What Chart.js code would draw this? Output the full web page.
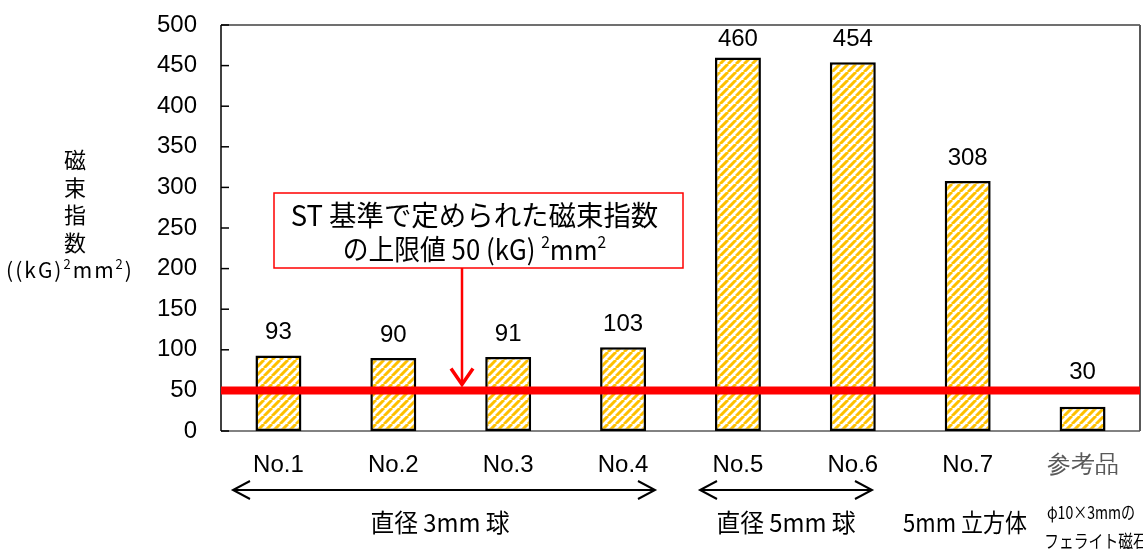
<!DOCTYPE html>
<html>
<head>
<meta charset="utf-8">
<script src="https://cdn.jsdelivr.net/npm/chart.js@4.4.0/dist/chart.umd.min.js"></script>
<style>
  html, body { margin: 0; padding: 0; background: #fff; }
  #wrap { width: 1143px; height: 549px; }
</style>
</head>
<body>
<div id="wrap"><canvas id="c" width="1143" height="549"></canvas></div>
<script>
// Sample names and their magnetic flux index ((kG)^2 mm^2)
const categories = ['No.1', 'No.2', 'No.3', 'No.4', 'No.5', 'No.6', 'No.7', '参考品'];
const fluxIndex = [93, 90, 91, 103, 460, 454, 308, 30];
const yTickValues = [0, 50, 100, 150, 200, 250, 300, 350, 400, 450, 500];
// Upper limit set by the ST standard
const stLimit = 50;

const JP = '"Noto Sans CJK JP", "Noto Sans", sans-serif';
const LAT = '"Liberation Sans", Arial, sans-serif';

// Diagonal yellow hatch used to fill the bars
function makeHatch() {
  const s = 8;
  const c = document.createElement('canvas');
  c.width = s; c.height = s;
  const g = c.getContext('2d');
  g.fillStyle = '#fff';
  g.fillRect(0, 0, s, s);
  g.strokeStyle = '#FFC000';
  g.lineWidth = 3;
  g.beginPath();
  for (const k of [-s, 0, s]) {
    g.moveTo(k, s);
    g.lineTo(k + s, 0);
  }
  g.stroke();
  return document.getElementById('c').getContext('2d').createPattern(c, 'repeat');
}

// Draws a run of text pieces (some superscript) centred on cx,
// optionally squeezed horizontally by sx
function drawRich(ctx, parts, cx, baseY, size, family, sx) {
  sx = sx || 1;
  const fontOf = p => (p.sup ? Math.round(size * 0.6) : size) + 'px ' + family;
  let total = 0;
  const widths = parts.map(p => {
    ctx.font = fontOf(p);
    const w = ctx.measureText(p.t).width;
    total += w;
    return w;
  });
  ctx.save();
  ctx.translate(cx, baseY);
  ctx.scale(sx, 1);
  let x = -total / 2;
  ctx.textAlign = 'left';
  ctx.textBaseline = 'alphabetic';
  parts.forEach((p, i) => {
    ctx.font = fontOf(p);
    ctx.fillText(p.t, x, p.sup ? -size * 0.42 : 0);
    x += widths[i];
  });
  ctx.restore();
}

function arrowHead(ctx, x, y, dx, dy, len, half) {
  // open V-shaped head pointing in direction (dx, dy)
  const px = -dy, py = dx;
  ctx.beginPath();
  ctx.moveTo(x - dx * len + px * half, y - dy * len + py * half);
  ctx.lineTo(x, y);
  ctx.lineTo(x - dx * len - px * half, y - dy * len - py * half);
  ctx.stroke();
}

const decorations = {
  id: 'decorations',
  beforeDatasetsDraw(chart) {
    const { ctx, chartArea: a, scales: { y } } = chart;
    ctx.save();
    // plot frame
    ctx.lineCap = 'butt';
    ctx.strokeStyle = '#404040';
    ctx.lineWidth = 1.5;
    ctx.beginPath(); ctx.moveTo(a.left, a.top); ctx.lineTo(a.right, a.top); ctx.stroke();
    ctx.strokeStyle = '#595959';
    ctx.lineWidth = 2;
    ctx.beginPath(); ctx.moveTo(a.right, a.top); ctx.lineTo(a.right, a.bottom); ctx.stroke();
    ctx.lineWidth = 1.5;
    ctx.beginPath(); ctx.moveTo(a.left, a.bottom); ctx.lineTo(a.right, a.bottom); ctx.stroke();
    ctx.strokeStyle = '#000';
    ctx.beginPath(); ctx.moveTo(a.left, a.top); ctx.lineTo(a.left, a.bottom); ctx.stroke();
    // inward tick marks on the value axis
    yTickValues.forEach(v => {
      const py = y.getPixelForValue(v);
      ctx.beginPath(); ctx.moveTo(a.left, py); ctx.lineTo(a.left + 8, py); ctx.stroke();
    });
    ctx.restore();
  },
  afterDatasetsDraw(chart) {
    const { ctx, chartArea: a, scales: { y } } = chart;
    const meta = chart.getDatasetMeta(0);
    const limitY = y.getPixelForValue(stLimit);
    ctx.save();

    // ST limit line
    ctx.strokeStyle = '#FF0000';
    ctx.lineWidth = 8;
    ctx.beginPath(); ctx.moveTo(a.left, limitY); ctx.lineTo(a.right, limitY); ctx.stroke();

    // value labels above bars (kept clear of the limit line and the top edge)
    ctx.fillStyle = '#000';
    ctx.font = '24px ' + LAT;
    ctx.textAlign = 'center';
    ctx.textBaseline = 'alphabetic';
    meta.data.forEach((bar, i) => {
      let by = bar.y > limitY ? limitY - 11 : bar.y - 16;
      by = Math.max(by, a.top + 21);
      ctx.fillText(String(fluxIndex[i]), bar.x, by);
    });

    // annotation box
    const bx = 274, bw = 409, btop = 193, bh = 75;
    ctx.fillStyle = '#fff';
    ctx.fillRect(bx, btop, bw, bh);
    ctx.strokeStyle = '#FF0000';
    ctx.lineWidth = 1.5;
    ctx.strokeRect(bx, btop, bw, bh);
    ctx.fillStyle = '#000';
    drawRich(ctx, [{ t: 'ST 基準で定められた磁束指数' }], bx + bw / 2 - 4, btop + 33, 28, JP, 0.98);
    drawRich(ctx, [
      { t: 'の上限値 50 (kG) ' },
      { t: '2', sup: true },
      { t: 'mm' },
      { t: '2', sup: true }
    ], bx + bw / 2 - 4, btop + 67, 28, JP, 0.92);

    // arrow from the box to the limit line
    const ax = 462;
    ctx.strokeStyle = '#FF0000';
    ctx.lineWidth = 2.5;
    ctx.beginPath(); ctx.moveTo(ax, btop + bh); ctx.lineTo(ax, limitY - 6); ctx.stroke();
    ctx.lineWidth = 3.5;
    arrowHead(ctx, ax, limitY - 6, 0, 1, 16, 11);

    // group brackets below the category labels
    ctx.strokeStyle = '#000';
    ctx.lineWidth = 2;
    const ay = 490;
    const spans = [[233, 655], [700, 872]];
    spans.forEach(([x0, x1]) => {
      ctx.beginPath(); ctx.moveTo(x0, ay); ctx.lineTo(x1, ay); ctx.stroke();
      arrowHead(ctx, x0, ay, -1, 0, 17, 9);
      arrowHead(ctx, x1, ay, 1, 0, 17, 9);
    });
    ctx.fillStyle = '#000';
    drawRich(ctx, [{ t: '直径 3mm 球' }], 440, 532, 25, JP, 0.95);
    drawRich(ctx, [{ t: '直径 5mm 球' }], 786, 532, 25, JP, 0.95);
    drawRich(ctx, [{ t: '5mm 立方体' }], 965, 532, 25, JP, 0.88);
    drawRich(ctx, [{ t: 'φ10×3mmの' }], 1091, 519, 18, JP, 0.78);
    drawRich(ctx, [{ t: 'フェライト磁石' }], 1096, 548, 18, JP, 0.82);

    // value axis title, stacked vertically
    ctx.font = '22px ' + JP;
    ctx.textAlign = 'center';
    ctx.textBaseline = 'middle';
    ['磁', '束', '指', '数'].forEach((ch, i) => ctx.fillText(ch, 75, 160 + i * 27.5));
    ctx.letterSpacing = '2px';
    drawRich(ctx, [
      { t: '((kG)' },
      { t: '2', sup: true },
      { t: 'mm' },
      { t: '2', sup: true },
      { t: ')' }
    ], 70, 278, 21, JP);
    ctx.letterSpacing = '0px';

    ctx.restore();
  }
};

const hatch = makeHatch();

new Chart(document.getElementById('c'), {
  type: 'bar',
  data: {
    labels: categories,
    datasets: [{
      data: fluxIndex,
      backgroundColor: hatch,
      borderColor: '#000',
      borderWidth: 2.5,
      borderSkipped: false,
      barPercentage: 0.4,
      categoryPercentage: 1
    }]
  },
  options: {
    responsive: false,
    animation: false,
    devicePixelRatio: 1,
    layout: { padding: { left: 0, top: 25, right: 3, bottom: 0 } },
    plugins: { legend: { display: false }, tooltip: { enabled: false } },
    scales: {
      x: {
        grid: { display: false, drawTicks: false },
        border: { display: false },
        ticks: {
          padding: 20,
          font: { size: 24, family: LAT },
          color: ctx => (ctx.index === categories.length - 1 ? '#595959' : '#000')
        },
        afterFit: s => { s.height = 118; s.paddingLeft = 0; s.paddingRight = 0; }
      },
      y: {
        min: 0,
        max: 500,
        grid: { display: false, drawTicks: false },
        border: { display: false },
        afterBuildTicks: s => { s.ticks = yTickValues.map(v => ({ value: v })); },
        ticks: {
          padding: 24,
          font: { size: 24, family: LAT },
          color: '#000'
        },
        afterFit: s => { s.width = 221; s.paddingTop = 0; s.paddingBottom = 0; }
      }
    }
  },
  plugins: [decorations]
});
</script>
</body>
</html>
